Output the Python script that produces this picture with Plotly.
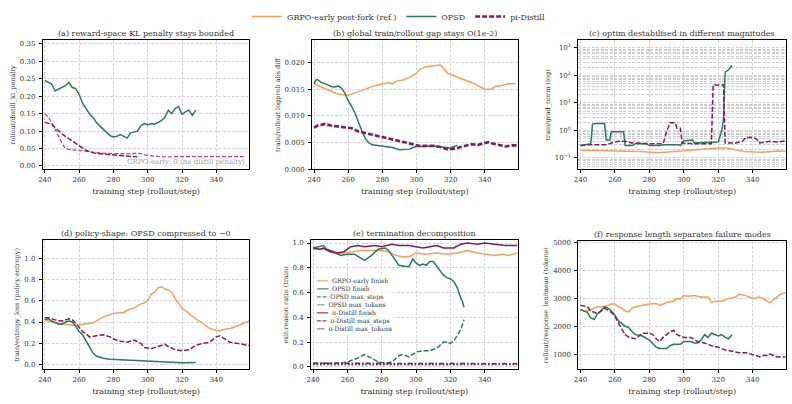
import plotly.graph_objects as go

# ---------------- data ----------------
# (a) rollout/distill_kl_penalty
a_opsd_x = [240,242,244,246,248,250,252,254,256,258,260,262,264,266,268,270,272,274,276,278,280,282,284,286,288,290,292,294,296,298,300,302,304,306,308,310,312,314,316,318,320,322,324,326,328]
a_opsd_y = [0.245,0.24,0.235,0.215,0.22,0.225,0.23,0.24,0.225,0.222,0.205,0.18,0.165,0.15,0.14,0.125,0.115,0.105,0.095,0.087,0.083,0.085,0.09,0.085,0.08,0.095,0.098,0.1,0.115,0.122,0.118,0.122,0.12,0.125,0.13,0.14,0.16,0.15,0.165,0.17,0.148,0.155,0.16,0.145,0.16]
a_pid_x = [240,242,244,246,248,250,252,254,256,258,260,262,264,266,268,270,272,276,280,284,288,292,294]
a_pid_y = [0.125,0.123,0.12,0.11,0.1,0.092,0.085,0.078,0.07,0.064,0.058,0.052,0.045,0.041,0.038,0.036,0.035,0.033,0.032,0.03,0.028,0.027,0.026]
a_pid2_x = [240,242,244,246,248,250,252,256,260,265,270,280,290,295,300,305,310,320,330,340,350,356]
a_pid2_y = [0.15,0.14,0.125,0.105,0.085,0.065,0.05,0.046,0.045,0.042,0.038,0.035,0.036,0.036,0.03,0.027,0.026,0.027,0.027,0.027,0.027,0.027]

# (b) train/rollout logprob abs diff
b_grpo_x = [240,243,246,250,253,256,260,264,268,272,276,280,284,286,288,292,296,300,302,305,308,312,314,316,318,322,326,330,334,338,340,344,346,350,354,358]
b_grpo_y = [0.016,0.0156,0.0152,0.0146,0.0142,0.014,0.0139,0.0143,0.0148,0.0152,0.0157,0.016,0.0162,0.016,0.0165,0.0167,0.0172,0.018,0.0187,0.0192,0.0193,0.0193,0.0195,0.0188,0.018,0.0175,0.017,0.0164,0.016,0.0153,0.015,0.015,0.0155,0.0157,0.016,0.016]
b_opsd_x = [240,241,242,244,248,250,252,254,256,258,260,262,264,266,268,270,272,274,278,282,286,290,294,296,298,300,304,308,312,316,320,322,324]
b_opsd_y = [0.016,0.0167,0.0168,0.0163,0.0158,0.0155,0.0154,0.0156,0.0152,0.0143,0.0128,0.0118,0.0105,0.0088,0.0072,0.0058,0.005,0.0046,0.0044,0.0043,0.0041,0.0037,0.0037,0.0038,0.0041,0.0043,0.0043,0.0044,0.0043,0.0042,0.004,0.0043,0.0045]
b_pid_x = [240,242,244,246,250,254,258,262,266,270,274,278,282,286,290,294,298,302,306,310,314,318,320,324,328,332,336,340,342,344,348,352,356,359]
b_pid_y = [0.0078,0.0082,0.0083,0.0085,0.0082,0.008,0.0079,0.0077,0.0071,0.0068,0.0065,0.0062,0.006,0.0057,0.0053,0.0051,0.0048,0.0044,0.0044,0.0044,0.0042,0.0038,0.0038,0.004,0.0044,0.0047,0.0046,0.005,0.0051,0.0049,0.0046,0.0043,0.0045,0.0045]

# (c) train/grad_norm (log)
c_grpo_x = [240,260,275,285,290,300,310,316,320,325,330,335,345,350,355,359]
c_grpo_y = [0.19,0.18,0.17,0.155,0.165,0.18,0.2,0.22,0.23,0.23,0.2,0.17,0.16,0.17,0.18,0.17]
c_opsd_x = [240,244,246,247,250,254,255,257,258,265,266,270,272,278,280,286,288,297,298,300,305,306,316,320,322,323,324,326,328]
c_opsd_y = [0.28,0.3,0.33,1.7,1.8,1.8,0.45,0.45,0.9,0.9,0.28,0.28,0.33,0.33,0.28,0.28,0.3,0.3,0.28,0.42,0.45,0.35,0.38,0.38,1.0,2.5,130,160,230]
c_pid_x = [240,245,250,255,258,262,266,270,280,288,290,292,295,296,298,299,305,310,316,317,323,324,330,334,336,340,342,344,350,355,359]
c_pid_y = [0.28,0.3,0.3,0.3,0.35,0.4,0.4,0.35,0.33,0.33,0.9,1.9,1.9,1.2,1.2,0.35,0.33,0.33,0.33,45,45,0.35,0.35,0.4,0.55,0.55,0.5,0.35,0.4,0.38,0.42]

# (d) train/entropy_loss
d_grpo_x = [240,244,248,252,256,260,264,268,272,276,280,284,286,288,292,296,298,300,302,304,306,308,310,312,314,316,318,320,324,328,332,336,340,342,344,348,352,356,359]
d_grpo_y = [0.42,0.4,0.39,0.38,0.37,0.375,0.38,0.39,0.43,0.46,0.48,0.49,0.49,0.51,0.53,0.57,0.58,0.6,0.66,0.68,0.72,0.73,0.71,0.7,0.68,0.62,0.57,0.53,0.48,0.43,0.39,0.34,0.32,0.32,0.33,0.34,0.36,0.39,0.41]
d_opsd_x = [240,242,244,248,250,252,254,256,258,260,262,264,266,268,270,274,278,284,290,296,300,306,312,320,328]
d_opsd_y = [0.42,0.43,0.41,0.38,0.38,0.4,0.41,0.4,0.36,0.31,0.28,0.22,0.16,0.11,0.08,0.06,0.05,0.045,0.04,0.032,0.03,0.022,0.018,0.017,0.02]
d_pid_x = [240,242,246,250,254,256,258,260,262,264,266,270,274,278,280,284,288,292,296,298,302,306,310,312,316,320,324,328,332,336,340,342,344,348,352,356,359]
d_pid_y = [0.44,0.44,0.42,0.41,0.43,0.42,0.39,0.35,0.31,0.29,0.26,0.27,0.28,0.26,0.24,0.22,0.21,0.23,0.2,0.16,0.15,0.17,0.19,0.17,0.14,0.13,0.14,0.18,0.2,0.21,0.26,0.27,0.25,0.21,0.2,0.19,0.18]

# (e) exit-reason ratio
e_grpo_fin_x = [240,246,250,254,258,262,268,276,280,284,288,292,296,300,306,312,318,324,330,336,342,346,350,354,359]
e_grpo_fin_y = [0.95,0.95,0.93,0.91,0.92,0.93,0.94,0.94,0.94,0.93,0.9,0.89,0.89,0.92,0.91,0.92,0.91,0.92,0.94,0.92,0.91,0.9,0.91,0.9,0.92]
e_opsd_fin_x = [240,244,246,248,252,256,260,264,268,270,274,278,282,284,286,288,290,294,296,298,300,302,304,306,308,310,312,314,316,318,320,322,324,326,327,328]
e_opsd_fin_y = [0.96,0.97,0.98,0.95,0.93,0.9,0.91,0.91,0.88,0.86,0.9,0.95,0.96,0.94,0.9,0.86,0.82,0.81,0.81,0.87,0.84,0.82,0.83,0.82,0.85,0.85,0.81,0.78,0.74,0.72,0.71,0.69,0.64,0.56,0.53,0.48]
e_opsd_steps_x = [240,250,256,260,266,270,274,278,282,286,290,292,296,300,304,308,312,316,318,320,322,324,326,328]
e_opsd_steps_y = [0.03,0.03,0.03,0.04,0.07,0.1,0.07,0.04,0.03,0.04,0.09,0.1,0.08,0.12,0.13,0.13,0.15,0.2,0.2,0.19,0.21,0.25,0.3,0.38]
e_opsd_tok_x = [240,280,328]
e_opsd_tok_y = [0.02,0.02,0.02]
e_pid_fin_x = [240,244,246,250,254,258,262,266,270,276,280,286,290,296,300,304,308,312,316,320,322,326,330,336,340,346,352,359]
e_pid_fin_y = [0.96,0.95,0.96,0.93,0.92,0.93,0.97,0.98,0.97,0.98,0.97,0.99,0.98,0.98,0.97,0.96,0.97,0.98,0.96,0.96,0.96,0.99,1.0,0.99,1.0,0.99,0.98,0.98]
e_pid_steps_x = [240,270,300,330,359]
e_pid_steps_y = [0.03,0.03,0.027,0.025,0.025]
e_pid_tok_x = [240,300,359]
e_pid_tok_y = [0.02,0.02,0.02]
e_legend_labels = ["GRPO-early finish", "OPSD finish", "OPSD max_steps", "OPSD max_tokens",
                   "\u03c0-Distill finish", "\u03c0-Distill max_steps", "\u03c0-Distill max_tokens"]

# (f) rollout/response_len/mean
f_grpo_x = [240,242,244,246,248,250,254,256,258,260,262,264,266,268,270,272,276,280,284,286,290,294,296,298,300,302,306,310,314,316,318,322,326,330,332,336,340,344,346,348,350,352,354,356,359]
f_grpo_y = [2600,2550,2550,2600,2650,2700,2700,2750,2800,2800,2700,2650,2550,2520,2650,2700,2750,2800,2820,2750,2850,2900,3000,2980,3100,3080,3100,3050,3050,2850,2900,2900,3000,3050,3150,3100,3000,3050,3000,2900,2850,2950,3050,3150,3200]
f_opsd_x = [240,244,246,248,250,252,254,256,258,260,262,264,266,268,270,272,276,280,284,286,290,292,294,298,300,304,306,308,310,312,314,316,318,320,322,324,326,328]
f_opsd_y = [2600,2500,2300,2250,2450,2550,2700,2650,2550,2400,2200,2100,2000,1950,1800,1700,1650,1500,1250,1200,1200,1300,1350,1350,1450,1450,1400,1400,1500,1700,1600,1750,1700,1650,1700,1600,1550,1700]
f_pid_x = [240,244,246,250,254,258,260,262,264,266,268,272,276,280,282,284,286,288,292,294,296,300,304,308,312,316,320,324,328,332,336,340,342,344,346,348,350,352,354,356,359]
f_pid_y = [2750,2700,2550,2450,2650,2500,2350,2100,1900,1700,1600,1550,1750,1750,1700,1550,1450,1600,1800,1850,1700,1600,1600,1450,1400,1300,1250,1150,1100,1050,1050,1000,950,900,950,950,1000,950,900,900,900]

x_ticks = [240, 260, 280, 300, 320, 340]
titles = ["(a) reward-space KL penalty stays bounded",
          "(b) global train/rollout gap stays O(1e-2)",
          "(c) optim destabilised in different magnitudes",
          "(d) policy-shape: OPSD compressed to \u22120",
          "(e) termination decomposition",
          "(f) response length separates failure modes"]
y_titles = ["rollout/distill_kl_penalty", "train/rollout logprob abs diff", "train/grad_norm (log)",
            "train/entropy_loss (policy entropy)", "exit-reason ratio (train)", "rollout/response_len/mean (tokens)"]

# ---------------- style ----------------
ORANGE = "#f5a05c"
GREEN = "#2c7a59"
PURPLE = "#7a1f5e"
PINK = "#c8408a"
FONT = "DejaVu Serif"
W, H = 792, 404
GRID = "#d6d6d6"
GDASH = "3px,1.5px"

fig = go.Figure()

def add(x, y, ax, color, dash="solid", width=1.5, name=None, show=False):
    fig.add_trace(go.Scatter(x=x, y=y, mode="lines", xaxis="x" + ax, yaxis="y" + ax,
                             line=dict(color=color, dash=dash, width=width),
                             name=name, showlegend=show))

# (a)
add(a_opsd_x, a_opsd_y, "", GREEN)
add(a_pid2_x, a_pid2_y, "", PINK, dash="4px,2px", width=1.3)
add(a_pid_x, a_pid_y, "", PURPLE, dash="5px,2px")
# (b)
add(b_grpo_x, b_grpo_y, "2", ORANGE, name="GRPO-early post-fork (ref.)", show=True)
add(b_opsd_x, b_opsd_y, "2", GREEN, name="OPSD", show=True)
add(b_pid_x, b_pid_y, "2", PURPLE, dash="5px,2px", width=2.6, name="pi-Distill", show=True)
# (c)
add(c_grpo_x, c_grpo_y, "3", ORANGE)
add(c_opsd_x, c_opsd_y, "3", GREEN)
add(c_pid_x, c_pid_y, "3", PURPLE, dash="5px,2px")
# (d)
add(d_grpo_x, d_grpo_y, "4", ORANGE)
add(d_opsd_x, d_opsd_y, "4", GREEN)
add(d_pid_x, d_pid_y, "4", PURPLE, dash="5px,2px")
# (e)
e_series = [(e_grpo_fin_x, e_grpo_fin_y, ORANGE, "solid"),
            (e_opsd_fin_x, e_opsd_fin_y, GREEN, "solid"),
            (e_opsd_steps_x, e_opsd_steps_y, GREEN, "5px,2px"),
            (e_opsd_tok_x, e_opsd_tok_y, GREEN, "1.5px,2px"),
            (e_pid_fin_x, e_pid_fin_y, PURPLE, "solid"),
            (e_pid_steps_x, e_pid_steps_y, PURPLE, "5px,2px,1.5px,2px"),
            (e_pid_tok_x, e_pid_tok_y, PURPLE, "1.5px,2px")]
for (x, y, c, d), lab in zip(e_series, e_legend_labels):
    add(x, y, "5", c, dash=d, name=lab)
# (f)
add(f_grpo_x, f_grpo_y, "6", ORANGE)
add(f_opsd_x, f_opsd_y, "6", GREEN)
add(f_pid_x, f_pid_y, "6", PURPLE, dash="5px,2px")

# panel pixel boxes (left, right, top, bottom)
boxes = [(38, 246, 39, 170), (309, 516, 39, 170), (577, 786, 39, 170),
         (38, 246, 242, 373), (308, 516, 242, 373), (577, 786, 243, 373)]
yranges = [[-0.01, 0.36], [0, 0.0241], [-1.42, 3.27], [-0.046, 1.167], [-0.021, 1.021], [449, 5047]]
ytickvals = [[0, 0.05, 0.10, 0.15, 0.20, 0.25, 0.30, 0.35],
             [0, 0.005, 0.010, 0.015, 0.020],
             [0.1, 1, 10, 100, 1000],
             [0, 0.2, 0.4, 0.6, 0.8, 1.0],
             [0, 0.2, 0.4, 0.6, 0.8, 1.0],
             [1000, 2000, 3000, 4000, 5000]]
yticktext = [["0.00", "0.05", "0.10", "0.15", "0.20", "0.25", "0.30", "0.35"],
             ["0.000", "0.005", "0.010", "0.015", "0.020"],
             ["10<sup>\u22121</sup>", "10<sup>0</sup>", "10<sup>1</sup>", "10<sup>2</sup>", "10<sup>3</sup>"],
             ["0.0", "0.2", "0.4", "0.6", "0.8", "1.0"],
             ["0.0", "0.2", "0.4", "0.6", "0.8", "1.0"],
             ["1000", "2000", "3000", "4000", "5000"]]

tickfont = dict(family=FONT, size=7, color="#333333")
layout = dict(width=W, height=H, margin=dict(l=0, r=0, t=0, b=0),
              paper_bgcolor="white", plot_bgcolor="white",
              font=dict(family=FONT, size=7, color="#333333"))
annotations = []
for i, (l, r, t, b) in enumerate(boxes):
    suf = "" if i == 0 else str(i + 1)
    xd = [l / W, r / W]
    yd = [1 - b / H, 1 - t / H]
    layout["xaxis" + suf] = dict(domain=xd, anchor="y" + suf, range=[238.8, 359.3],
                                 tickvals=x_ticks, tickfont=tickfont,
                                 showline=True, mirror=True, linecolor="black", linewidth=1,
                                 ticks="outside", ticklen=3, tickcolor="black",
                                 showgrid=True, gridcolor=GRID, griddash=GDASH, gridwidth=0.8,
                                 zeroline=False,
                                 title=dict(text="training step (rollout/step)", font=dict(family=FONT, size=8, color="#333333"), standoff=5))
    yax = dict(domain=yd, anchor="x" + suf, range=yranges[i],
               tickvals=ytickvals[i], ticktext=yticktext[i], tickfont=tickfont, ticklabelstandoff=2,
               showline=True, mirror=True, linecolor="black", linewidth=1,
               ticks="outside", ticklen=3, tickcolor="black",
               showgrid=True, gridcolor=GRID, griddash=GDASH, gridwidth=0.8,
               zeroline=False,
               title=dict(text=y_titles[i], font=dict(family=FONT, size=6.5, color="#333333"), standoff=3))
    if i == 2:
        yax["type"] = "log"
        yax["minor"] = dict(dtick="D1", showgrid=True, gridcolor="#cccccc", gridwidth=0.9, griddash=GDASH)
    layout["yaxis" + suf] = yax
    annotations.append(dict(text=titles[i], x=(l + r) / 2 / W, y=1 - (t - 7) / H, xref="paper", yref="paper",
                            showarrow=False, xanchor="center", yanchor="middle",
                            font=dict(family=FONT, size=8, color="#333333")))

annotations.append(dict(text="GRPO-early: 0 (no distill penalty)", x=357.5, y=0.0123, xref="x", yref="y",
                        showarrow=False, xanchor="right", yanchor="middle", bgcolor="rgba(255,255,255,0.6)",
                        font=dict(family=FONT, size=7, color="#999999"), borderpad=0))

# compact legend for panel (e), built from the series styles
sym = {"solid": "\u2501\u2501\u2501", "5px,2px": "\u2501 \u2501", "1.5px,2px": "\u2509\u2509",
       "5px,2px,1.5px,2px": "\u2501\u00b7\u2501"}
rows = []
for (x, y, c, d), lab in zip(e_series, e_legend_labels):
    rows.append('<span style="color:%s">%s</span>  %s' % (c, sym[d], lab))
annotations.append(dict(text="<br>".join(rows), x=311 / W, y=1 - 277 / H, xref="paper", yref="paper",
                        showarrow=False, xanchor="left", yanchor="top", align="left",
                        bgcolor="rgba(255,255,255,0.75)", borderpad=1,
                        font=dict(family=FONT, size=6.2, color="#333333")))
layout["annotations"] = annotations
layout["legend"] = dict(orientation="h", x=0.5, xanchor="center", y=1.0, yanchor="top",
                        font=dict(family=FONT, size=8, color="#333333"), bgcolor="rgba(0,0,0,0)",
                        itemwidth=30)
fig.update_layout(**layout)
fig.write_html("out.html")
